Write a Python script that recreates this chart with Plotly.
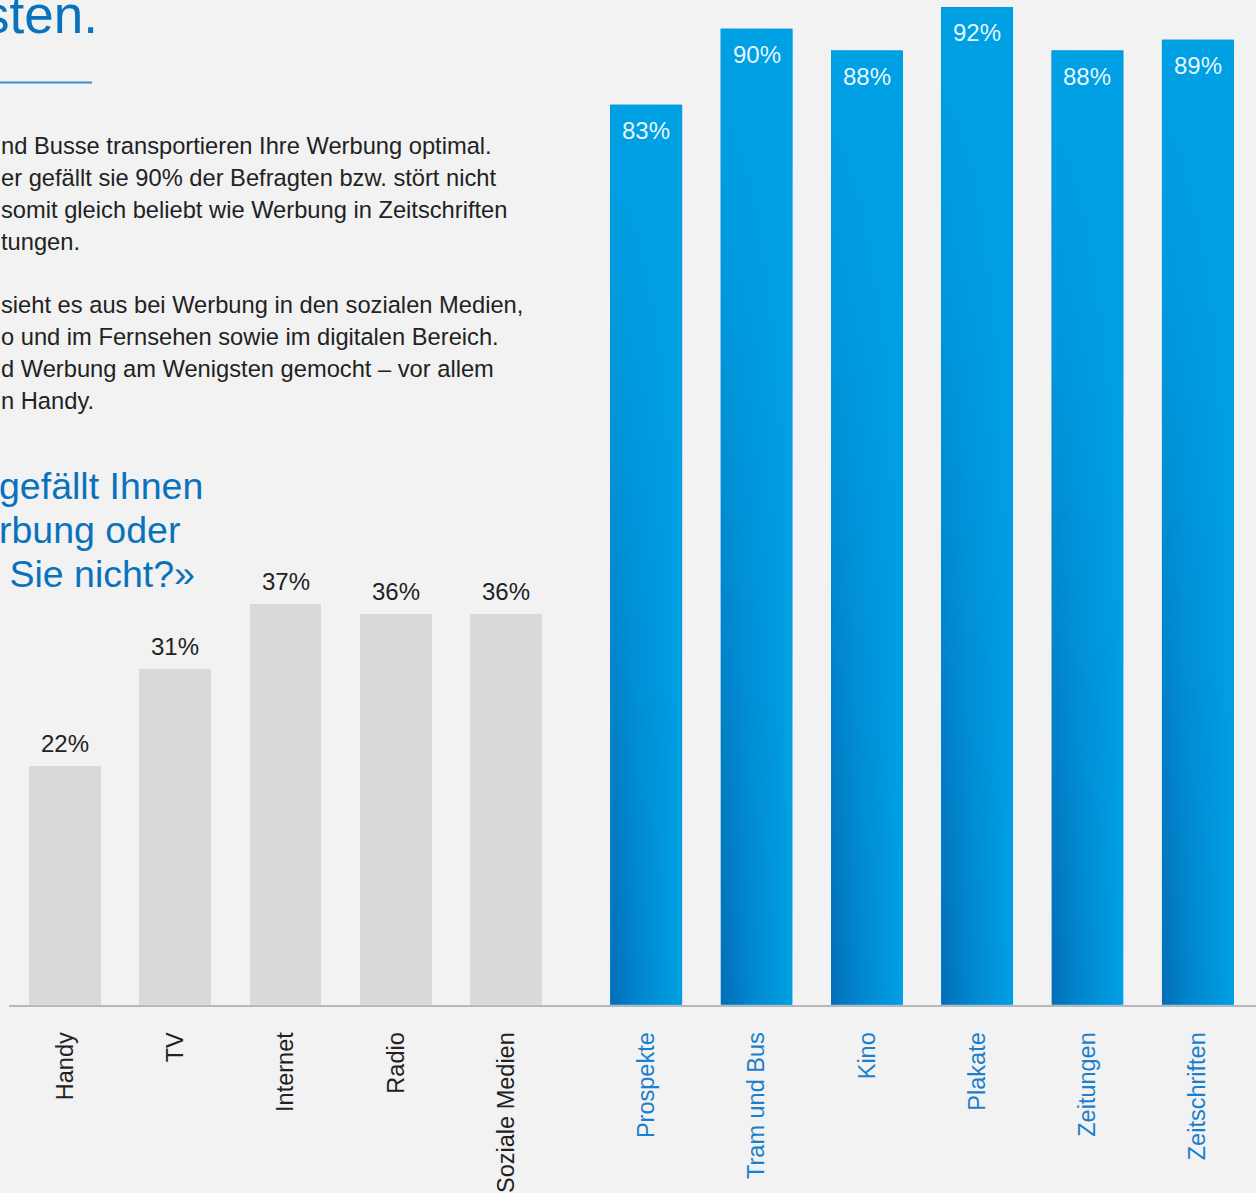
import plotly.graph_objects as go

# ---------------- data ----------------
grey_categories = ["Handy", "TV", "Internet", "Radio", "Soziale Medien"]
grey_values = [22, 31, 37, 36, 36]
blue_categories = ["Prospekte", "Tram und Bus", "Kino", "Plakate", "Zeitungen", "Zeitschriften"]
blue_values = [83, 90, 88, 92, 88, 89]

title_text = "sten."
body_lines = [
    "nd Busse transportieren Ihre Werbung optimal.",
    "er gefällt sie 90% der Befragten bzw. stört nicht",
    "somit gleich beliebt wie Werbung in Zeitschriften",
    "tungen.",
    "sieht es aus bei Werbung in den sozialen Medien,",
    "o und im Fernsehen sowie im digitalen Bereich.",
    "d Werbung am Wenigsten gemocht – vor allem",
    "n Handy.",
]
question_lines = ["gefällt Ihnen", "rbung oder", " Sie nicht?»"]

# ---------------- layout constants ----------------
W, H = 1256, 1193
SY = 1.005  # small vertical compensation for the page capture
BG = "#f2f2f2"
GREY = "#d9d9d9"
BLUE_LIGHT = "#00a0e4"
BLUE_DARK = "#026db6"
TEXT_BLUE = "#0a72bd"
LABEL_BLUE = "#1a7fcc"
DARK = "#222222"
FONT = "Liberation Sans"
GAP = 0.27
BAR_W = 0.65

def px(x):
    return x / W

def py(y):
    return 1 - y * SY / H

grey_x = list(range(len(grey_categories)))
blue_x = [len(grey_categories) + GAP + j for j in range(len(blue_categories))]

fig = go.Figure()

fig.add_trace(go.Bar(x=grey_x, y=grey_values, width=BAR_W,
                     marker=dict(color=GREY, line=dict(width=0)),
                     hoverinfo="skip", showlegend=False))
fig.add_trace(go.Bar(x=blue_x, y=blue_values, width=BAR_W,
                     marker=dict(color=BLUE_LIGHT, line=dict(width=0)),
                     hoverinfo="skip", showlegend=False))

# gradient overlays for blue bars
for c, v in zip(blue_x, blue_values):
    xs = [c - BAR_W / 2, c + BAR_W / 2, c + BAR_W / 2, c - BAR_W / 2, c - BAR_W / 2]
    ys = [0, 0, v, v, 0]
    fig.add_trace(go.Scatter(
        x=xs, y=ys, mode="lines", fill="toself", line=dict(width=0),
        fillgradient=dict(type="horizontal", start=c - BAR_W / 2, stop=c + BAR_W / 2,
                          colorscale=[[0, BLUE_DARK], [0.35, "#0182ca"], [1, BLUE_LIGHT]]),
        hoverinfo="skip", showlegend=False))
    fig.add_trace(go.Scatter(
        x=xs, y=ys, mode="lines", fill="toself", line=dict(width=0),
        fillgradient=dict(type="vertical", start=0, stop=v,
                          colorscale=[[0, "rgba(0,160,228,0)"], [0.75, "rgba(0,160,228,0.85)"],
                                      [1, "rgba(0,160,228,1)"]]),
        hoverinfo="skip", showlegend=False))

annotations = []
for c, v in zip(grey_x, grey_values):
    annotations.append(dict(x=c, y=v, xref="x", yref="y", text=f"{v}%", showarrow=False,
                            yanchor="bottom", yshift=7,
                            font=dict(family=FONT, size=24, color=DARK)))
for c, v in zip(blue_x, blue_values):
    annotations.append(dict(x=c, y=v, xref="x", yref="y", text=f"{v}%", showarrow=False,
                            yanchor="top", yshift=-10,
                            font=dict(family=FONT, size=24, color="rgba(255,255,255,0.92)")))

# title fragment
annotations.append(dict(x=px(100), y=py(15), xref="paper", yref="paper", text=title_text,
                        showarrow=False, xanchor="right", yanchor="middle",
                        font=dict(family=FONT, size=53, color=TEXT_BLUE)))

body_y = [147, 179, 211, 243, 307, 339, 371, 403]
for t, yy in zip(body_lines, body_y):
    annotations.append(dict(x=px(-1), y=py(yy), xref="paper", yref="paper", text=t,
                            showarrow=False, xanchor="left", yanchor="middle",
                            font=dict(family=FONT, size=23.7, color=DARK)))

q_y = [488, 533, 577]
for t, yy in zip(question_lines, q_y):
    annotations.append(dict(x=px(-3), y=py(yy), xref="paper", yref="paper",
                            text=t.replace(" ", "&nbsp;", 1) if t.startswith(" ") else t,
                            showarrow=False, xanchor="left", yanchor="middle",
                            font=dict(family=FONT, size=37.5, color=TEXT_BLUE)))

ticktext = grey_categories + [f"<span style='color:{LABEL_BLUE}'>{c}</span>" for c in blue_categories]

x_left = (9 - 65) / 110.3
x_right = x_left + (W - 9) / 110.3

fig.update_layout(
    width=W, height=H,
    margin=dict(l=0, r=0, t=0, b=0, pad=0),
    paper_bgcolor=BG, plot_bgcolor=BG,
    bargap=0, barmode="overlay",
    annotations=annotations,
    shapes=[dict(type="line", xref="paper", yref="paper", x0=0, x1=px(92), y0=py(83), y1=py(83),
                 line=dict(color="#3d8bd1", width=2))],
    xaxis=dict(domain=[px(9), 1], range=[x_left, x_right], tickvals=grey_x + blue_x,
               ticktext=ticktext, tickangle=-90, showgrid=False, zeroline=False,
               showline=True, linecolor="#b8b8b8", linewidth=2, ticks="",
               ticklabelstandoff=16,
               tickfont=dict(family=FONT, size=23.5, color=DARK)),
    yaxis=dict(domain=[py(1010), 1], range=[0, 1010 / 10.9], visible=False),
    font=dict(family=FONT),
)

fig.write_html(
    "out.html",
    config={"displayModeBar": False},
    post_script=(
        "document.body.style.margin='0';"
        "document.body.style.background='#f2f2f2';"
        "document.documentElement.style.overflow='hidden';"
        "var d=document.getElementsByClassName('plotly-graph-div')[0];"
        "d.style.position='fixed';d.style.left='0px';d.style.top='0px';"
    ),
)
